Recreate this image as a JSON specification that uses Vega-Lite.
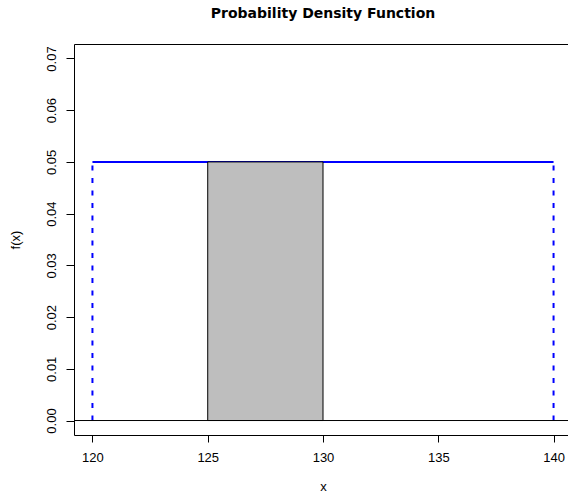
{
  "$schema": "https://vega.github.io/schema/vega-lite/v6.json",
  "width": 498,
  "height": 391,
  "autosize": "none",
  "padding": {"left": 74, "top": 44, "right": 0, "bottom": 59},
  "background": "white",
  "title": {
    "text": "Probability Density Function",
    "font": "DejaVu Sans",
    "fontSize": 14,
    "fontWeight": "bold",
    "color": "black",
    "anchor": "middle",
    "frame": "group",
    "baseline": "alphabetic",
    "offset": 12
  },
  "config": {
    "view": {"stroke": "black", "strokeWidth": 1},
    "axis": {
      "domain": false,
      "grid": false,
      "tickColor": "black",
      "labelColor": "black",
      "titleColor": "black",
      "labelFont": "Liberation Sans",
      "titleFont": "Liberation Sans",
      "labelFontSize": 13,
      "titleFontSize": 13,
      "titleFontWeight": "normal"
    }
  },
  "datasets": {
    "topline": [{"x": 120, "x2": 140, "y": 0.05, "y2": 0.05}],
    "sides": [
      {"x": 120, "x2": 120, "y": 0, "y2": 0.05},
      {"x": 140, "x2": 140, "y": 0, "y2": 0.05}
    ],
    "area": [{"x": 125, "x2": 130, "y": 0, "y2": 0.05}],
    "zero": [{"y": 0}]
  },
  "layer": [
    {
      "data": {"name": "topline"},
      "mark": {"type": "rule", "color": "#0000FF", "strokeWidth": 2, "clip": true},
      "encoding": {
        "x": {"field": "x", "type": "quantitative", "scale": {"domain": [119.2, 140.8], "nice": false, "zero": false},
          "axis": {"values": [120, 125, 130, 135, 140], "format": "d", "tickSize": 7, "labelPadding": 9, "title": "x", "titlePadding": 16}},
        "x2": {"field": "x2"},
        "y": {"field": "y", "type": "quantitative", "scale": {"domain": [-0.0028, 0.0728], "nice": false, "zero": false},
          "axis": {"values": [0, 0.01, 0.02, 0.03, 0.04, 0.05, 0.06, 0.07], "format": ".2f", "tickSize": 8, "labelAngle": 270, "labelAlign": "center", "labelBaseline": "alphabetic", "labelPadding": 11, "title": "f(x)", "titlePadding": 23}},
        "y2": {"field": "y2"}
      }
    },
    {
      "data": {"name": "sides"},
      "mark": {"type": "rule", "color": "#0000FF", "strokeWidth": 2, "strokeDash": [5, 7.5]},
      "encoding": {
        "x": {"field": "x", "type": "quantitative"},
        "x2": {"field": "x2"},
        "y": {"field": "y", "type": "quantitative"},
        "y2": {"field": "y2"}
      }
    },
    {
      "data": {"name": "area"},
      "mark": {"type": "rect", "fill": "#BEBEBE", "stroke": "black", "strokeWidth": 1},
      "encoding": {
        "x": {"field": "x", "type": "quantitative"},
        "x2": {"field": "x2"},
        "y": {"field": "y", "type": "quantitative"},
        "y2": {"field": "y2"}
      }
    },
    {
      "data": {"name": "zero"},
      "mark": {"type": "rule", "color": "black", "strokeWidth": 1},
      "encoding": {
        "y": {"field": "y", "type": "quantitative"}
      }
    }
  ]
}
